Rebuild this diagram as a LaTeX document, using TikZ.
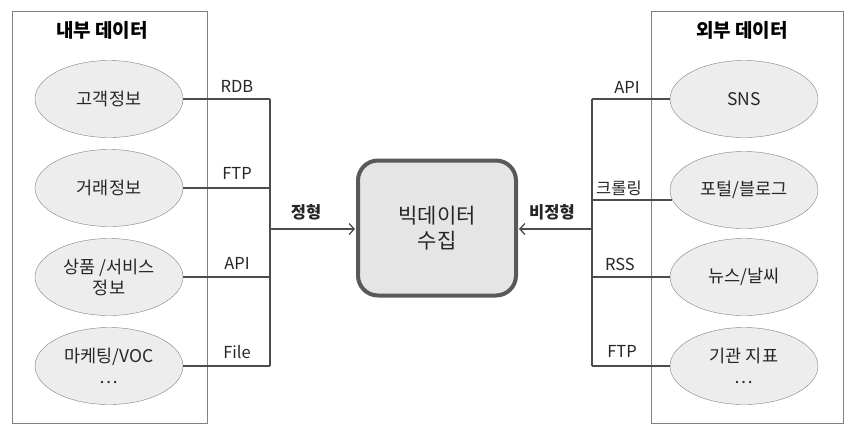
\documentclass[tikz,border=0pt]{standalone}
\usepackage{fontspec}
\setmainfont{Noto Sans CJK KR}
\usetikzlibrary{arrows.meta,shapes.geometric}

\begin{document}
\begin{tikzpicture}[x=1pt, y=-1pt, >={Straight Barb[length=5pt,width=11pt]},
    panel/.style={draw=black!50, line width=1pt},
    src/.style={ellipse, draw=black!50, fill=black!7, minimum width=148pt, minimum height=77pt,
        inner sep=0pt, align=center, text=black!85, font=\fontsize{17.5}{21}\selectfont},
    lbl/.style={text=black!85, font=\fontsize{16.5}{19}\selectfont},
    kind/.style={text=black!85, font=\bfseries\fontsize{16.5}{19}\selectfont},
    ttl/.style={font=\bfseries\fontsize{19}{22}\selectfont},
    conn/.style={draw=black!70, line width=1.3pt},
    hubbox/.style={draw=black!65, line width=4pt, fill=black!10, rounded corners=20pt,
        minimum width=158pt, minimum height=135pt, align=center, text=black!85,
        font=\fontsize{21}{25}\selectfont}]
    \useasboundingbox (0,0) rectangle (852,432);
    
    \draw[panel] (12,11) rectangle (207,423);
    \draw[panel] (651,11) rectangle (843,423);
    \node[ttl] (intitle) at (102,30) {내부 데이터};
    \node[ttl] (extitle) at (742,30) {외부 데이터};
    
    \foreach \n/\y/\t in {1/99/고객정보, 2/188/거래정보, 3/277/{상품 /서비스\\정보}, 4/366/{마케팅/VOC\\…}}
    {
        \node[src] (in\n) at (109,\y) {\t};
    }
    \foreach \n/\y/\t in {1/99/SNS, 2/190/{포털/블로그}, 3/277/{뉴스/날씨}, 4/366/{기관 지표\\…}}
    {
        \node[src] (out\n) at (744,\y) {\t};
    }
    
    \node[hubbox] (hub) at (437,228) {빅데이터\\수집};
    \coordinate (lbus) at (270,229);
    \coordinate (rbus) at (592,229);
    
    \foreach \n in {1,...,4}
    {
        \draw[conn] (in\n.east) -- (in\n.east -| lbus);
    }
    \draw[conn] (in1.east -| lbus) -- (in4.east -| lbus);
    \draw[conn,->,shorten >=1pt] (lbus) -- (lbus -| hub.west);
    
    \foreach \n/\a in {1/west, 2/188, 3/west, 4/west}
    {
        \draw[conn] (out\n.\a) -- (out\n.\a -| rbus);
    }
    \draw[conn] (out1.west -| rbus) -- (out4.west -| rbus);
    \draw[conn,->,shorten >=1pt] (rbus) -- (rbus -| hub.east);
    
    \foreach \n/\y/\t in {1/86/RDB, 2/173/FTP, 3/263/API, 4/352/File}
    {
        \node[lbl] (inlbl\n) at (237,\y) {\t};
    }
    \foreach \n/\x/\y/\t in {1/627/87/API, 2/619/188/크롤링, 3/620/264/RSS, 4/622/351/FTP}
    {
        \node[lbl] (outlbl\n) at (\x,\y) {\t};
    }
    \node[kind] (fixed) at (306,212) {정형};
    \node[kind] (free) at (552,212) {비정형};
    
\end{tikzpicture}
\end{document}
